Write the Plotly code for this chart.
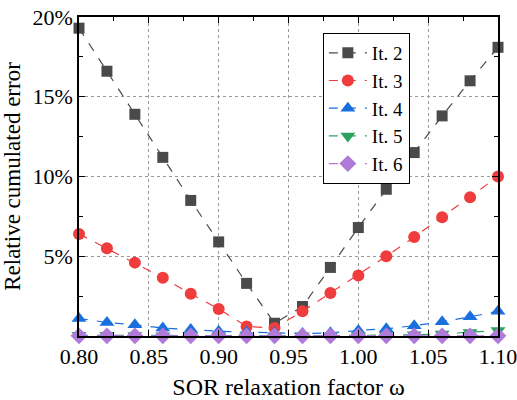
import plotly.graph_objects as go

omega = [0.80, 0.82, 0.84, 0.86, 0.88, 0.90, 0.92, 0.94, 0.96, 0.98, 1.00, 1.02, 1.04, 1.06, 1.08, 1.10]
it2 = [19.3, 16.6, 13.9, 11.2, 8.5, 5.9, 3.3, 0.8, 1.85, 4.3, 6.8, 9.2, 11.5, 13.8, 16.0, 18.1]
it3 = [6.4, 5.5, 4.6, 3.65, 2.65, 1.7, 0.6, 0.5, 1.55, 2.7, 3.8, 5.0, 6.2, 7.45, 8.7, 10.0]
it4 = [1.1, 0.85, 0.7, 0.5, 0.4, 0.3, 0.25, 0.2, 0.15, 0.2, 0.35, 0.45, 0.65, 0.9, 1.2, 1.55]
it5 = [0.05, 0.04, 0.03, 0.02, 0.02, 0.01, 0.01, 0.01, 0.01, 0.02, 0.03, 0.05, 0.08, 0.13, 0.22, 0.35]
it6 = [0.01, 0.01, 0.01, 0.01, 0.01, 0.01, 0.01, 0.01, 0.01, 0.01, 0.01, 0.01, 0.01, 0.01, 0.01, 0.01]

names = ["It. 2", "It. 3", "It. 4", "It. 5", "It. 6"]
series = [it2, it3, it4, it5, it6]
colors = ["#4a4a4a", "#f03c3c", "#1a6fdf", "#2ca25f", "#b07ad9"]
symbols = ["square", "circle", "triangle-up", "triangle-down", "diamond"]
sizes = [11, 12, 13, 13, 13]

fig = go.Figure()
for n, s, c, m, sz in zip(names, series, colors, symbols, sizes):
    fig.add_trace(go.Scatter(
        x=omega, y=s, name=n, mode="lines+markers",
        line=dict(color=c, width=1.2, dash="dash"),
        marker=dict(symbol=m, size=sz, color=c),
        cliponaxis=False,
    ))

font = "Times New Roman, Liberation Serif, serif"
fig.update_layout(
    width=517, height=400,
    margin=dict(l=79, r=19, t=17, b=64),
    paper_bgcolor="white", plot_bgcolor="white",
    font=dict(family=font, size=21, color="black"),
    showlegend=True,
    legend=dict(
        x=0.582, y=0.95, xanchor="left", yanchor="top",
        bordercolor="black", borderwidth=1, bgcolor="white",
        font=dict(size=19, family=font), tracegroupgap=0,
        itemwidth=38,
    ),
    xaxis=dict(
        range=[0.80, 1.10], tickvals=[0.80, 0.85, 0.90, 0.95, 1.00, 1.05, 1.10],
        ticktext=["0.80", "0.85", "0.90", "0.95", "1.00", "1.05", "1.10"],
        showline=True, linecolor="black", linewidth=1.5, mirror="allticks",
        ticks="inside", ticklen=6, tickcolor="black", tickwidth=1.2,
        showgrid=True, gridcolor="#9a9a9a", griddash="dot", gridwidth=1,
        minor=dict(dtick=0.025, tick0=0.8, ticks="inside", ticklen=4, tickcolor="black", showgrid=False),
        title=dict(text="SOR relaxation factor ω", font=dict(size=24, family=font), standoff=12),
        zeroline=False, tickfont=dict(size=22, family=font), automargin=False,
        ticklabeloverflow="allow",
    ),
    yaxis=dict(
        range=[0, 20], tickvals=[5, 10, 15, 20], ticktext=["5%", "10%", "15%", "20%"],
        showline=True, linecolor="black", linewidth=1.5, mirror="allticks",
        ticks="inside", ticklen=6, tickcolor="black", tickwidth=1.2,
        showgrid=True, gridcolor="#9a9a9a", griddash="dot", gridwidth=1,
        minor=dict(dtick=2.5, tick0=0, ticks="inside", ticklen=4, tickcolor="black", showgrid=False),
        title=dict(text="Relative cumulated error", font=dict(size=23, family=font), standoff=6),
        zeroline=False, tickfont=dict(size=22, family=font), automargin=False,
        ticklabeloverflow="allow",
    ),
)
fig.write_html("out.html")
